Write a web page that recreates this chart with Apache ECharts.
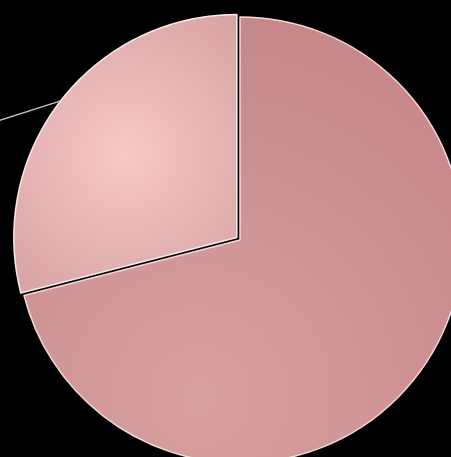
<!DOCTYPE html>
<html>
<head>
<meta charset="utf-8">
<script src="https://cdn.jsdelivr.net/npm/echarts@6/dist/echarts.min.js"></script>
<style>
html,body{margin:0;padding:0;background:#000;}
#c{width:451px;height:457px;}
</style>
</head>
<body>
<div id="c"></div>
<script>
const categories = ['A', 'B'];
const values = [71, 29];

const chart = echarts.init(document.getElementById('c'), null, {renderer: 'canvas'});

const styles = [
  {
    color: {type: 'radial', x: 0.4, y: 0.85, r: 0.95,
      colorStops: [{offset: 0, color: '#d9a0a0'}, {offset: 1, color: '#c48585'}]},
    borderColor: '#f6d8d8', borderWidth: 1.5
  },
  {
    color: {type: 'radial', x: 0.5, y: 0.5, r: 0.75,
      colorStops: [{offset: 0, color: '#f7c9c9'}, {offset: 1, color: '#d9a4a4'}]},
    borderColor: '#fbeaea', borderWidth: 1.5
  }
];

chart.setOption({
  backgroundColor: '#000',
  animation: false,
  series: [{
    type: 'pie',
    center: [240, 240],
    radius: [0, 223],
    startAngle: 90,
    clockwise: true,
    selectedMode: 'single',
    selectedOffset: 4,
    label: {show: true, position: 'outside', color: '#000', fontSize: 12},
    labelLine: {show: true, length: 8, length2: 10, lineStyle: {color: '#c4c4c4', width: 1.5}},
    labelLayout: function (p) {
      if (p.dataIndex === 1) return {x: -30, y: 130, align: 'right'};
      return {};
    },
    emphasis: {disabled: true},
    data: categories.map((c, i) => ({
      name: c,
      value: values[i],
      selected: i === 1,
      itemStyle: styles[i],
      labelLine: {show: i === 1}
    }))
  }]
});
</script>
</body>
</html>
